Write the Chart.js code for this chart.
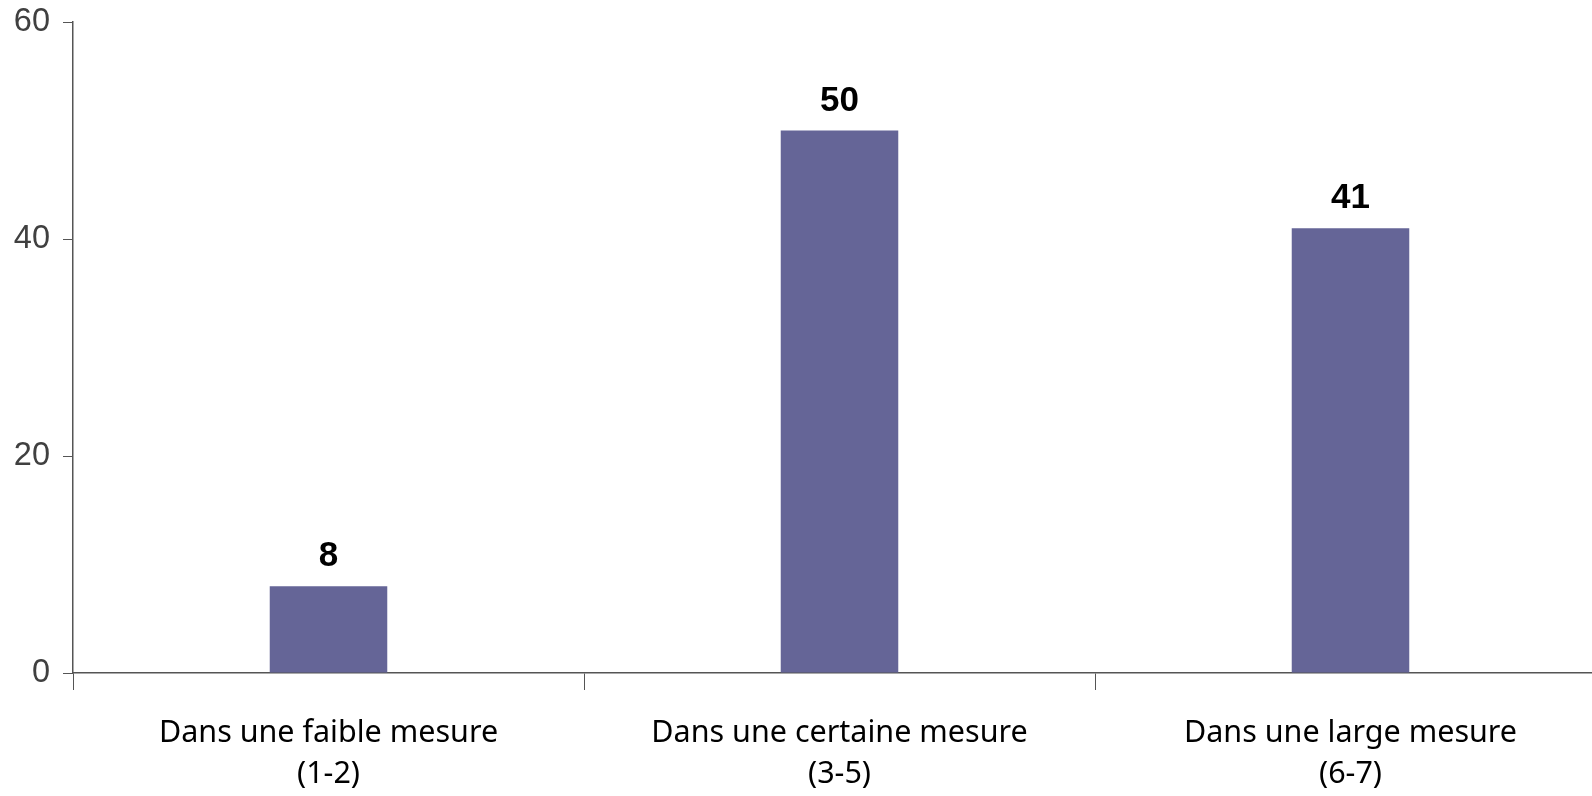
<!DOCTYPE html>
<html>
<head>
<meta charset="utf-8">
<script src="https://cdn.jsdelivr.net/npm/chart.js@4/dist/chart.umd.min.js"></script>
<style>
  html, body { margin: 0; padding: 0; background: #fff; overflow: hidden; }
  /* plot runs a little past the right edge, as in the original */
  #wrap { width: 1606px; height: 796px; }
</style>
</head>
<body>
<div id="wrap"><canvas id="barChart"></canvas></div>
<script>
const categories = [
  ["Dans une faible mesure", "(1-2)"],
  ["Dans une certaine mesure", "(3-5)"],
  ["Dans une large mesure", "(6-7)"]
];
const values = [8, 50, 41];
const yTicks = [0, 20, 40, 60];

// draws the bold value above each bar
const valueLabels = {
  id: "valueLabels",
  afterDatasetsDraw(chart) {
    const ctx = chart.ctx;
    const meta = chart.getDatasetMeta(0);
    ctx.save();
    ctx.font = "bold 35px 'Liberation Sans', Arial, sans-serif";
    ctx.fillStyle = "#000";
    ctx.textAlign = "center";
    ctx.textBaseline = "alphabetic";
    meta.data.forEach((bar, i) => {
      ctx.fillText(String(values[i]), bar.x, bar.y - 20);
    });
    ctx.restore();
  }
};

const ctx = document.getElementById("barChart").getContext("2d");

new Chart(ctx, {
  type: "bar",
  data: {
    labels: categories,
    datasets: [{
      data: values,
      backgroundColor: "#656597",
      barPercentage: 0.23,
      categoryPercentage: 1
    }]
  },
  options: {
    responsive: true,
    maintainAspectRatio: false,
    animation: false,
    layout: { padding: { top: 22, right: 0, left: 0, bottom: 0 } },
    plugins: {
      legend: { display: false },
      tooltip: { enabled: false }
    },
    scales: {
      x: {
        afterFit: (scale) => {
          scale.height = 123;
          scale.paddingLeft = 0;
          scale.paddingRight = 0;
        },
        grid: {
          offset: true,
          drawOnChartArea: false,
          drawTicks: true,
          tickLength: 17,
          color: "#555"
        },
        border: { color: "#555", width: 1.5 },
        ticks: {
          color: "#000",
          padding: 23,
          font: { family: "'Noto Sans', sans-serif", size: 30.5, lineHeight: 1.35 }
        }
      },
      y: {
        min: 0,
        max: 60,
        afterFit: (scale) => {
          scale.width = 73;
          scale.paddingTop = 0;
          scale.paddingBottom = 0;
        },
        afterBuildTicks: (scale) => { scale.ticks = yTicks.map(v => ({ value: v })); },
        grid: {
          drawOnChartArea: false,
          drawTicks: true,
          tickLength: 10,
          color: "#555"
        },
        border: { color: "#555", width: 1.5 },
        ticks: {
          color: "#404040",
          padding: 13,
          font: { family: "'Liberation Sans', Arial, sans-serif", size: 32.5 }
        }
      }
    }
  },
  plugins: [valueLabels]
});
</script>
</body>
</html>
